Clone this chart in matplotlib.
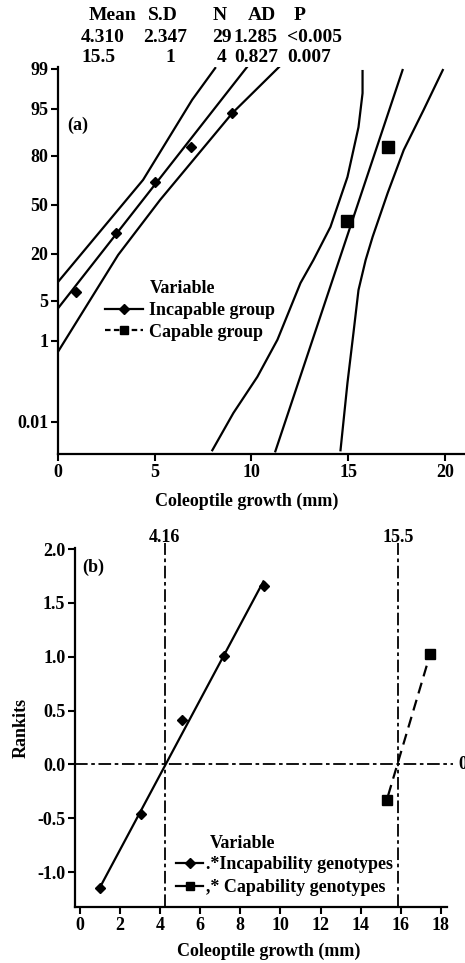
import matplotlib
matplotlib.use('Agg')
import matplotlib.pyplot as plt
from matplotlib.lines import Line2D
from statistics import NormalDist

plt.rcParams['font.family'] = ['Liberation Serif', 'DejaVu Serif']
plt.rcParams['font.size'] = 13
plt.rcParams['font.weight'] = 'bold'
plt.rcParams['axes.labelweight'] = 'bold'

# ---- panel (a): normal probability plot (x in mm, y in percent) ----
inc_x = [0.93, 3.0, 5.03, 6.89, 9.02]
inc_p = [6.8, 31.5, 65.2, 83.9, 94.2]
cap_x = [14.97, 17.05]
cap_p = [39.0, 83.9]

inc_fit_x = [0.0, 9.79]
inc_fit_p = [3.8, 99.1]
inc_up_x = [0.0, 4.40, 6.94, 8.13]
inc_up_p = [9.3, 66.5, 96.4, 99.04]
inc_lo_x = [0.0, 3.11, 5.28, 9.02, 11.45]
inc_lo_p = [0.59, 19.5, 53.3, 94.2, 99.1]

cap_fit_x = [11.24, 17.82]
cap_fit_p = [0.0012, 98.95]
cap_left_x = [15.75, 15.75, 15.54, 14.97, 14.09, 13.21, 12.54, 11.35, 10.31, 9.07, 7.98]
cap_left_p = [98.9, 97.2, 90.8, 68.3, 35.2, 17.2, 9.0, 1.04, 0.16, 0.018, 0.0013]
cap_right_x = [19.90, 18.91, 17.88, 17.05, 16.27, 15.91, 15.54, 15.28, 14.97, 14.61]
cap_right_p = [98.95, 94.8, 82.6, 58.0, 29.1, 17.2, 7.2, 1.41, 0.114, 0.0013]

prob_ticks = [0.01, 1, 5, 20, 50, 80, 95, 99]
prob_labels = ['0.01', '1', '5', '20', '50', '80', '95', '99']

stats_head = ['Mean', 'S.D', 'N', 'AD', 'P']
stats_inc = ['4.310', '2.347', '29', '1.285', '<0.005']
stats_cap = ['15.5', '1', '4', '0.827', '0.007']

# ---- panel (b): rankits ----
rk_inc_x = [1.0, 3.05, 5.1, 7.2, 9.2]
rk_inc_y = [-1.15, -0.46, 0.41, 1.01, 1.66]
rk_cap_x = [15.3, 17.45]
rk_cap_y = [-0.33, 1.03]
rk_inc_fit_x = [1.0, 9.15]
rk_inc_fit_y = [-1.14, 1.70]
rk_cap_fit_x = [15.37, 17.35]
rk_cap_fit_y = [-0.29, 0.95]
ref_x = [4.22, 15.88]
ref_labels = ['4.16', '15.5']


def z(p):
    return [NormalDist().inv_cdf(v / 100.0) for v in p]


W, H = 465, 963
fig = plt.figure(figsize=(W / 100, H / 100), dpi=100)


def box(l, t, r, b):
    return [l / W, 1 - b / H, (r - l) / W, (b - t) / H]


def style(ax):
    for s in ['top', 'right']:
        ax.spines[s].set_visible(False)
    for s in ['left', 'bottom']:
        ax.spines[s].set_linewidth(1.6)
    ax.tick_params(direction='out', length=5, width=1.5, labelsize=13, pad=2)


lw = 1.6

# panel (a)
ax1 = fig.add_axes(box(58, 67, 466, 454))
style(ax1)
ax1.plot(inc_fit_x, z(inc_fit_p), 'k-', lw=lw)
ax1.plot(inc_up_x, z(inc_up_p), 'k-', lw=lw)
ax1.plot(inc_lo_x, z(inc_lo_p), 'k-', lw=lw)
ax1.plot(cap_fit_x, z(cap_fit_p), 'k-', lw=lw)
ax1.plot(cap_left_x, z(cap_left_p), 'k-', lw=lw)
ax1.plot(cap_right_x, z(cap_right_p), 'k-', lw=lw)
ax1.plot(inc_x, z(inc_p), 'kD', ms=5.5, ls='none')
ax1.plot(cap_x, z(cap_p), 'ks', ms=8, ls='none')
ax1.set_xlim(0, 21.1)
ax1.set_ylim(-4.27, 2.36)
ax1.set_xticks([0, 5, 10, 15, 20])
ax1.set_yticks(z(prob_ticks))
ax1.set_yticklabels(prob_labels)
ax1.set_xlabel('Coleoptile growth (mm)', fontsize=13)
ax1.xaxis.set_label_coords(0.462, -0.1)
ax1.text(0.022, 0.85, '(a)', transform=ax1.transAxes, fontsize=13,
         ha='left', va='center')

ha = [Line2D([], [], color='k', lw=lw, marker='D', ms=5),
      Line2D([], [], color='k', lw=lw, ls=(0, (2.5, 1.5)), marker='s', ms=6)]
leg1 = ax1.legend(ha, ['Incapable group', 'Capable group'], loc='upper left',
                  bbox_to_anchor=(105 / W, 1 - 302 / H), bbox_transform=fig.transFigure,
                  frameon=False, fontsize=13, handlelength=2.1, handletextpad=0.35,
                  labelspacing=0.25, borderpad=0, borderaxespad=0)
fig.text(150 / W, 1 - 288 / H, 'Variable', ha='left', va='center', fontsize=13)

# table of statistics
hx = [113, 163, 220, 262, 300]
r1x = [103, 165, 222, 255, 315]
r2x = [98, 170, 222, 256, 309]
for i in range(5):
    fig.text(hx[i] / W, 1 - 15 / H, stats_head[i], ha='center', va='center', fontsize=14)
    fig.text(r1x[i] / W, 1 - 37 / H, stats_inc[i], ha='center', va='center', fontsize=14)
    fig.text(r2x[i] / W, 1 - 57 / H, stats_cap[i], ha='center', va='center', fontsize=14)

# panel (b)
ax2 = fig.add_axes(box(75, 548, 447, 907))
style(ax2)
ax2.plot(rk_inc_fit_x, rk_inc_fit_y, 'k-', lw=lw)
ax2.plot(rk_cap_fit_x, rk_cap_fit_y, 'k', lw=lw, ls=(0, (5, 3)))
ax2.plot(rk_inc_x, rk_inc_y, 'kD', ms=5.5, ls='none')
ax2.plot(rk_cap_x, rk_cap_y, 'ks', ms=7, ls='none')
dashdot = (0, (7, 2, 2, 2))
for xv, lab in zip(ref_x, ref_labels):
    ax2.axvline(xv, ymin=0, ymax=1.015, color='k', lw=1.3, ls=dashdot, clip_on=False)
    ax2.text(xv, 2.11, lab, ha='center', va='center', fontsize=13)
ax2.axhline(0, xmin=0, xmax=1.016, color='k', lw=1.3, ls=dashdot, clip_on=False)
ax2.text(18.9, 0, '0', ha='left', va='center', fontsize=13)
ax2.set_xlim(-0.25, 18.31)
ax2.set_ylim(-1.324, 2.01)
ax2.set_xticks(range(0, 19, 2))
ax2.set_yticks([-1.0, -0.5, 0.0, 0.5, 1.0, 1.5, 2.0])
ax2.set_yticklabels(['-1.0', '-0.5', '0.0', '0.5', '1.0', '1.5', '2.0'])
ax2.set_xlabel('Coleoptile growth (mm)', fontsize=13)
ax2.xaxis.set_label_coords(0.52, -0.1)
ax2.set_ylabel('Rankits', fontsize=13)
ax2.yaxis.set_label_coords(-0.121, 0.5)
ax2.text(0.02, 0.945, '(b)', transform=ax2.transAxes, fontsize=13,
         ha='left', va='center')

hb = [Line2D([], [], color='k', lw=lw, marker='D', ms=5),
      Line2D([], [], color='k', lw=lw, marker='s', ms=6)]
leg2 = ax2.legend(hb, ['.*Incapability genotypes', ',* Capability genotypes'],
                  loc='upper left', bbox_to_anchor=(176 / W, 1 - 856 / H),
                  bbox_transform=fig.transFigure, frameon=False, fontsize=13,
                  handlelength=1.5, handletextpad=0.15, labelspacing=0.35,
                  borderpad=0, borderaxespad=0)
fig.text(210 / W, 1 - 844 / H, 'Variable', ha='left', va='center', fontsize=13)

fig.savefig('out.png', dpi=100)
